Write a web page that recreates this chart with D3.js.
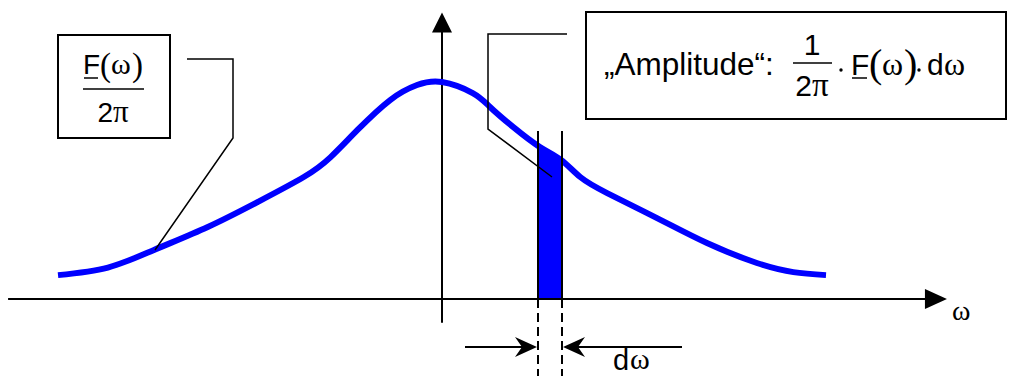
<!DOCTYPE html>
<html>
<head>
<meta charset="utf-8">
<style>
  body { margin: 0; background: #fff; }
  svg { display: block; }
</style>
<script src="https://d3js.org/d3.v7.min.js"></script>
</head>
<body>
<div id="chart"></div>
<script>
// spectrum |F(w)|/2pi (peak normalised to 1)
var omega     = [-1, -0.87, -0.75, -0.61, -0.48, -0.36, -0.29, -0.22, -0.135, -0.065, 0, 0.08, 0.125, 0.185, 0.255, 0.31, 0.36, 0.43, 0.56, 0.69, 0.82, 0.915, 1];
var amplitude = [0.11, 0.145, 0.226, 0.332, 0.447, 0.562, 0.654, 0.779, 0.917, 0.986, 1, 0.949, 0.885, 0.793, 0.70, 0.641, 0.562, 0.488, 0.373, 0.258, 0.166, 0.124, 0.11];
// the strip dw
var band = [0.25, 0.3125];
// axis extents (in data units)
var xAxisExtent = [-1.13, 1.315];
var yAxisExtent = [-0.11, 1.32];

var data = omega.map(function (w, i) { return { w: w, a: amplitude[i] }; });

var width = 1010, height = 376;
var sans = "'Liberation Sans', Arial, sans-serif";
var serif = "'Liberation Serif', 'Times New Roman', serif";

var svg = d3.select("#chart").append("svg")
    .attr("width", width)
    .attr("height", height);

var x = d3.scaleLinear().domain([-1, 1]).range([58, 826]);
var y = d3.scaleLinear().domain([0, 1]).range([299, 82]);

// blue strip under the curve
svg.append("clipPath").attr("id", "strip")
    .append("rect")
    .attr("x", x(band[0])).attr("width", x(band[1]) - x(band[0]))
    .attr("y", 0).attr("height", height);

var area = d3.area()
    .x(function (d) { return x(d.w); })
    .y0(y(0))
    .y1(function (d) { return y(d.a); })
    .curve(d3.curveNatural);

svg.append("path")
    .datum(data)
    .attr("clip-path", "url(#strip)")
    .attr("fill", "#0000ff")
    .attr("d", area);

// axes
var x0 = x(0), yBase = y(0);
svg.append("line")
    .attr("x1", x(xAxisExtent[0])).attr("x2", x(xAxisExtent[1]) - 18)
    .attr("y1", yBase).attr("y2", yBase)
    .attr("stroke", "#000").attr("stroke-width", 2);
svg.append("path")
    .attr("d", "M" + x(xAxisExtent[1]) + "," + yBase + "L" + (x(xAxisExtent[1]) - 22) + "," + (yBase - 10) + "L" + (x(xAxisExtent[1]) - 22) + "," + (yBase + 10) + "Z")
    .attr("fill", "#000");

svg.append("line")
    .attr("x1", x0).attr("x2", x0)
    .attr("y1", y(yAxisExtent[0])).attr("y2", y(yAxisExtent[1]) + 18)
    .attr("stroke", "#000").attr("stroke-width", 2);
svg.append("path")
    .attr("d", "M" + x0 + "," + y(yAxisExtent[1]) + "L" + (x0 - 10) + "," + (y(yAxisExtent[1]) + 20) + "L" + (x0 + 10) + "," + (y(yAxisExtent[1]) + 20) + "Z")
    .attr("fill", "#000");

// the curve
var line = d3.line()
    .x(function (d) { return x(d.w); })
    .y(function (d) { return y(d.a); })
    .curve(d3.curveNatural);

svg.append("path")
    .datum(data)
    .attr("fill", "none")
    .attr("stroke", "#0000ff")
    .attr("stroke-width", 6)
    .attr("d", line);

// strip edges: solid above axis, dashed below
band.forEach(function (b) {
    svg.append("line")
        .attr("x1", x(b)).attr("x2", x(b))
        .attr("y1", 131).attr("y2", yBase + 6)
        .attr("stroke", "#000").attr("stroke-width", 2);
    svg.append("line")
        .attr("x1", x(b)).attr("x2", x(b))
        .attr("y1", yBase).attr("y2", height)
        .attr("stroke", "#000").attr("stroke-width", 2)
        .attr("stroke-dasharray", "9,5");
});

// d-omega arrows
var ay = 347;
function stealth(tipX, dir) {
    // dir = +1 points right, -1 points left
    return "M" + tipX + "," + ay +
        "L" + (tipX - dir * 22) + "," + (ay - 10) +
        "L" + (tipX - dir * 15) + "," + ay +
        "L" + (tipX - dir * 22) + "," + (ay + 10) + "Z";
}
svg.append("line").attr("x1", 465).attr("x2", x(band[0]) - 10)
    .attr("y1", ay).attr("y2", ay).attr("stroke", "#000").attr("stroke-width", 2);
svg.append("path").attr("d", stealth(x(band[0]) - 1, 1)).attr("fill", "#000");
svg.append("line").attr("x1", x(band[1]) + 10).attr("x2", 682)
    .attr("y1", ay).attr("y2", ay).attr("stroke", "#000").attr("stroke-width", 2);
svg.append("path").attr("d", stealth(x(band[1]) + 1, -1)).attr("fill", "#000");

function label(tx, ty, str, font, size, anchor) {
    return svg.append("text")
        .attr("x", tx).attr("y", ty)
        .attr("font-family", font)
        .attr("font-size", size)
        .attr("text-anchor", anchor || "start")
        .attr("fill", "#000")
        .text(str);
}
function rule(x1, y1, x2, y2, w) {
    return svg.append("line")
        .attr("x1", x1).attr("y1", y1).attr("x2", x2).attr("y2", y2)
        .attr("stroke", "#000").attr("stroke-width", w || 1.5);
}
// "2" in sans, "pi" in serif, centred
function twoPi(cx, by, size) {
    var t = svg.append("text")
        .attr("x", cx).attr("y", by)
        .attr("text-anchor", "middle")
        .attr("font-size", size)
        .attr("fill", "#000");
    t.append("tspan").attr("font-family", sans).text("2");
    t.append("tspan").attr("font-family", serif).attr("font-size", size + 3).text("\u03c0");
    return t;
}

label(613, 370, "d", sans, 29);
label(630, 369, "\u03c9", serif, 30);
label(952, 320, "\u03c9", serif, 28);

// left box: F(w)/2pi
svg.append("rect").attr("x", 58).attr("y", 35).attr("width", 112).attr("height", 103)
    .attr("fill", "#fff").attr("stroke", "#000").attr("stroke-width", 2);
label(83, 74, "F", sans, 28);
rule(84, 78, 98, 78, 1.5);
label(100, 76, "(", serif, 33);
label(111, 74, "\u03c9", serif, 30);
label(132, 76, ")", serif, 33);
rule(83, 89, 144, 89, 1.5);
twoPi(113, 122, 28);

// leader from left box to the curve
svg.append("path")
    .attr("d", "M187,59L233,59L233,138L155,250")
    .attr("fill", "none").attr("stroke", "#000").attr("stroke-width", 1.5);

// right box
svg.append("rect").attr("x", 586).attr("y", 12).attr("width", 420).attr("height", 107)
    .attr("fill", "#fff").attr("stroke", "#000").attr("stroke-width", 2);
label(604, 75, "\u201eAmplitude\u201c:", sans, 31.5);
label(812, 55, "1", sans, 30, "middle");
rule(793, 63, 832, 63, 1.5);
twoPi(812, 96, 30);
svg.append("circle").attr("cx", 841).attr("cy", 70).attr("r", 1.7).attr("fill", "#000");
label(851, 75, "F", sans, 30);
rule(852, 78, 867, 78, 1.5);
label(869, 77, "(", serif, 40);
label(882, 75, "\u03c9", serif, 32);
label(904, 77, ")", serif, 40);
svg.append("circle").attr("cx", 919).attr("cy", 70).attr("r", 1.7).attr("fill", "#000");
label(927, 75, "d", sans, 30);
label(944, 75, "\u03c9", serif, 32);

// leader from right box into the strip
svg.append("path")
    .attr("d", "M567,34L488,34L488,129L552,177")
    .attr("fill", "none").attr("stroke", "#000").attr("stroke-width", 1.5);
</script>
</body>
</html>
